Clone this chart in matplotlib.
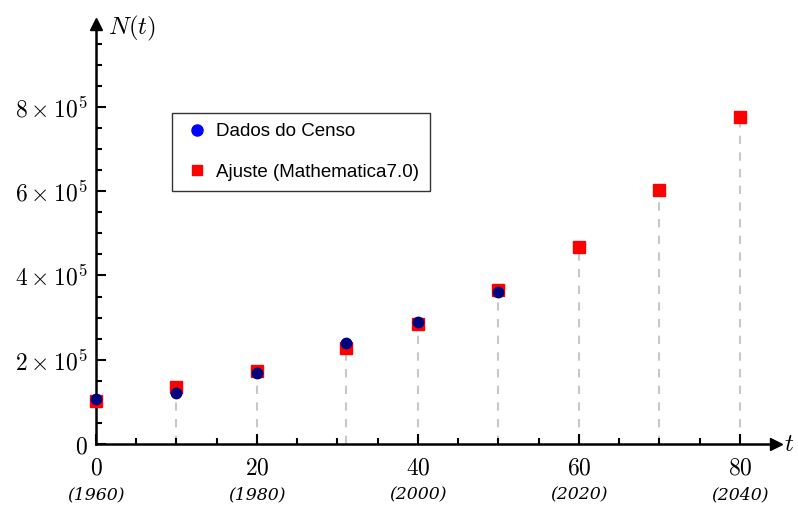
import numpy as np
import matplotlib
matplotlib.use("Agg")
import matplotlib.pyplot as plt
from matplotlib.lines import Line2D

plt.rcParams['mathtext.fontset'] = 'cm'

# census data (t = years since 1960)
t_censo = [0, 10, 20, 31, 40, 50]
n_censo = [106000, 121000, 168000, 240500, 289000, 361000]

# fitted values
t_ajuste = [0, 10, 20, 31, 40, 50, 60, 70, 80]
n_ajuste = [102000, 134600, 172600, 228600, 285000, 365600, 467700, 603000, 776000]

x_major = [0, 20, 40, 60, 80]
anos = ["(1960)", "(1980)", "(2000)", "(2020)", "(2040)"]
y_major = [0, 2e5, 4e5, 6e5, 8e5]
y_labels = ["$0$", r"$2\times10^5$", r"$4\times10^5$", r"$6\times10^5$", r"$8\times10^5$"]

fig = plt.figure(figsize=(7.98, 5.05), dpi=100)
ax = fig.add_axes([0.1203, 0.1208, 0.8521, 0.8317])
ax.set_xlim(0, 84.47)
ax.set_ylim(0, 9.97e5)

# spines as arrows
for s in ['top', 'right']:
    ax.spines[s].set_visible(False)
for s in ['left', 'bottom']:
    ax.spines[s].set_linewidth(1.8)
ax.plot(1, 0, '>', color='black', markersize=9, transform=ax.transAxes, clip_on=False)
ax.plot(0, 1, '^', color='black', markersize=9, transform=ax.transAxes, clip_on=False)

# dashed guides from axis up to the fitted points
ax.vlines(t_ajuste[1:], 0, n_ajuste[1:], colors='#c8c8c8', linestyles=(0, (4, 4)),
          linewidth=1.5, zorder=1)

ax.plot(t_ajuste, n_ajuste, 's', color='#ff0000', markersize=8.5, clip_on=False, zorder=3)
ax.plot(t_censo, n_censo, 'o', color='#00007f', markersize=7.5, clip_on=False, zorder=4)

# ticks
ax.set_xticks(x_major)
ax.set_xticklabels(["$%d$" % v for v in x_major], fontsize=17)
ax.set_xticks(np.arange(5, 81, 5), minor=True)
ax.set_yticks(y_major)
ax.set_yticklabels(y_labels, fontsize=17)
ax.set_yticks(np.arange(5e4, 9.6e5, 5e4), minor=True)
ax.tick_params(axis='both', which='major', direction='in', length=7, width=1.5)
ax.tick_params(axis='both', which='minor', direction='in', length=4.5, width=1.5)
ax.tick_params(axis='x', which='major', pad=8)
ax.tick_params(axis='y', which='major', pad=6)

for xv, ano in zip(x_major, anos):
    ax.text(xv, -0.12, ano, transform=ax.get_xaxis_transform(), ha='center', va='center',
            fontsize=12.5, family='DejaVu Serif', style='italic')

# axis names
ax.text(1.5, 0.99, "$N(t)$", transform=ax.get_xaxis_transform(), ha='left', va='center',
        fontsize=18, clip_on=False)
ax.text(85.5, 0, "$t$", ha='left', va='center', fontsize=18, clip_on=False)

handles = [
    Line2D([], [], marker='o', color='#0000ff', linestyle='none', markersize=8),
    Line2D([], [], marker='s', color='#ff0000', linestyle='none', markersize=7.5),
]
leg = ax.legend(handles, ["Dados do Censo", "Ajuste (Mathematica7.0)"],
                loc='upper left', bbox_to_anchor=(0.112, 0.788), borderaxespad=0,
                prop={'family': 'Liberation Sans', 'size': 13.5}, fancybox=False,
                framealpha=1, edgecolor='#333333', labelspacing=1.25,
                handletextpad=0.3, handlelength=1.5, borderpad=0.55)
leg.get_frame().set_linewidth(1.0)

fig.savefig("out.png", dpi=100)
